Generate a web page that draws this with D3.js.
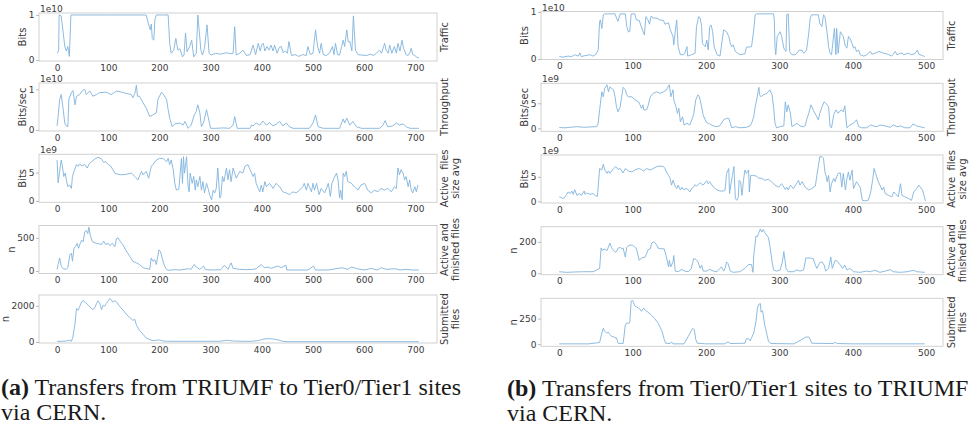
<!DOCTYPE html>
<html>
<head>
<meta charset="utf-8">
<script src="https://cdn.jsdelivr.net/npm/d3@7"></script>
<style>
  body { margin: 0; background: #fff; }
  svg { display: block; }
</style>
</head>
<body>
<svg id="chart" width="973" height="429"></svg>
<script>
// ---- (a) TRIUMF -> Tier0/Tier1, [time, value] ----
const aTraffic = [[0,0.15],[3,0.2],[4,1.0],[8,0.98],[12,0.6],[15,0.3],[18,0.2],[21,0.3],[24,0.08],[27,1.0],[100,1.0],[174,1.0],[179,0.78],[182,0.67],[184,0.8],[186,0.48],[189,0.44],[191,0.9],[194,1.0],[217,1.0],[220,0.37],[223,0.15],[228,0.22],[232,0.48],[236,0.22],[240,0.25],[245,0.07],[248,0.11],[251,0.6],[254,0.18],[259,0.3],[263,0.44],[267,0.07],[272,0.15],[275,1.0],[277,0.74],[281,0.22],[284,0.11],[288,0.26],[293,0.78],[297,0.15],[301,0.11],[310,0.15],[320,0.13],[330,0.16],[340,0.14],[344,0.15],[347,0.74],[350,0.11],[357,0.15],[363,0.22],[370,0.1],[377,0.12],[383,0.33],[388,0.12],[393,0.37],[397,0.2],[400,0.35],[403,0.37],[406,0.2],[410,0.3],[414,0.22],[418,0.33],[422,0.2],[425,0.33],[430,0.15],[434,0.28],[438,0.3],[442,0.16],[446,0.2],[450,0.15],[453,0.41],[458,0.1],[465,0.12],[472,0.08],[480,0.12],[487,0.1],[490,0.3],[495,0.12],[500,0.15],[505,0.67],[509,0.3],[513,0.15],[516,0.37],[520,0.12],[526,0.1],[532,0.15],[538,0.3],[541,0.12],[544,0.37],[548,0.12],[552,0.11],[556,0.3],[559,0.44],[562,0.3],[566,0.67],[569,0.4],[572,0.41],[576,0.2],[579,0.98],[583,0.22],[588,0.12],[595,0.11],[605,0.1],[612,0.13],[618,0.1],[624,0.15],[630,0.22],[634,0.15],[638,0.3],[640,0.37],[643,0.22],[647,0.15],[650,0.33],[654,0.15],[659,0.3],[663,0.15],[666,0.37],[670,0.2],[674,0.44],[677,0.26],[682,0.12],[686,0.1],[690,0.18],[692,0.26],[695,0.12],[699,0.1],[703,0.06],[707,0.05]];

const aThroughput = [[0,0.1],[2,0.33],[5,0.75],[8,0.87],[12,0.5],[15,0.17],[18,0.1],[21,0.08],[23,0.75],[28,0.92],[31,0.97],[35,0.62],[38,0.83],[44,0.87],[49,0.96],[54,1.0],[57,0.87],[64,0.96],[70,0.83],[77,0.87],[83,0.92],[96,0.93],[106,0.87],[116,0.96],[126,0.93],[135,0.9],[145,0.87],[148,0.79],[152,0.9],[155,1.1],[157,0.83],[161,0.83],[168,0.67],[174,0.54],[181,0.33],[187,0.37],[194,0.42],[197,0.75],[204,0.93],[208,0.87],[214,0.75],[217,0.5],[220,0.29],[225,0.08],[230,0.15],[240,0.17],[246,0.12],[250,0.21],[256,0.04],[262,0.12],[268,0.37],[272,0.46],[275,0.62],[279,0.42],[282,0.08],[286,0.17],[292,0.5],[295,0.33],[300,0.04],[311,0.04],[325,0.05],[337,0.04],[344,0.12],[347,0.33],[352,0.04],[365,0.04],[377,0.04],[380,0.12],[383,0.1],[389,0.17],[396,0.12],[402,0.22],[409,0.12],[415,0.18],[422,0.1],[429,0.15],[435,0.21],[441,0.1],[448,0.17],[454,0.08],[461,0.04],[480,0.04],[493,0.04],[500,0.17],[505,0.37],[510,0.08],[520,0.04],[540,0.04],[552,0.04],[559,0.27],[562,0.17],[566,0.29],[572,0.12],[578,0.21],[585,0.08],[595,0.04],[620,0.04],[630,0.04],[637,0.12],[641,0.23],[646,0.08],[656,0.1],[663,0.17],[669,0.12],[676,0.15],[683,0.07],[690,0.04],[707,0.04]];

const aSize = [[0,7.2],[2,3.2],[5,5.2],[8,7.2],[10,6.4],[13,4.3],[16,4.9],[18,3.7],[21,2.5],[25,2.8],[28,2.2],[30,4.3],[33,5.2],[38,6.4],[41,6.1],[44,6.5],[49,6.2],[54,6.4],[59,5.8],[63,6.6],[67,6.9],[74,7.4],[80,7.7],[87,7.4],[91,6.8],[95,6.9],[100,6.4],[105,6.1],[109,5.5],[113,4.9],[119,4.7],[126,4.6],[135,4.7],[145,4.9],[152,4.3],[158,3.7],[161,4.4],[165,5.2],[168,4.6],[174,5.2],[179,4.0],[184,6.1],[187,6.4],[194,7.2],[200,7.5],[207,7.5],[214,6.9],[217,7.5],[220,6.4],[223,7.2],[227,5.5],[230,3.1],[233,1.9],[238,2.1],[243,7.5],[245,3.1],[247,7.8],[249,4.9],[253,7.8],[256,2.5],[258,1.6],[260,4.9],[264,3.1],[267,4.3],[270,1.9],[272,3.7],[275,2.5],[279,4.3],[282,1.9],[285,3.4],[288,1.4],[292,3.1],[295,2.2],[298,1.1],[302,0.2],[305,1.9],[308,1.4],[311,2.2],[314,5.8],[318,0.5],[320,0.8],[323,4.3],[326,3.4],[331,5.8],[334,3.7],[337,5.5],[340,3.4],[344,5.8],[350,4.0],[357,5.2],[363,4.9],[367,6.1],[373,6.4],[377,5.5],[383,4.3],[386,4.9],[389,3.1],[393,2.2],[396,1.6],[399,2.8],[402,1.6],[406,3.4],[409,2.5],[415,3.1],[422,2.2],[428,3.1],[435,2.5],[441,1.6],[448,1.4],[454,1.1],[461,1.6],[467,1.4],[474,1.9],[480,2.5],[483,3.1],[487,1.9],[490,3.1],[493,2.5],[497,1.6],[500,3.1],[503,1.9],[507,3.1],[512,1.1],[516,2.2],[523,1.4],[530,3.1],[534,0.8],[537,3.1],[541,4.0],[546,4.9],[549,3.7],[552,0.5],[554,1.9],[557,0.2],[559,4.9],[562,4.3],[565,5.2],[568,3.4],[575,3.1],[581,2.5],[588,1.9],[594,2.8],[601,3.1],[607,1.9],[614,1.4],[620,1.9],[627,1.6],[633,2.2],[640,1.9],[646,2.2],[653,1.6],[659,2.5],[663,2.2],[666,5.8],[669,4.6],[672,5.5],[676,4.9],[679,3.7],[682,4.3],[686,2.5],[689,3.7],[692,1.9],[695,1.4],[699,2.5],[702,1.6],[705,2.8]];

const aActive = [[0,25],[2,98],[5,196],[8,73],[12,34],[18,25],[21,49],[25,245],[28,270],[30,147],[33,343],[36,368],[39,417],[42,343],[44,392],[48,466],[51,441],[54,588],[57,613],[60,564],[62,662],[65,539],[69,441],[77,417],[87,402],[91,451],[95,402],[100,417],[103,382],[108,417],[113,368],[116,490],[119,500],[124,441],[129,392],[135,304],[142,221],[148,147],[155,123],[161,98],[168,49],[174,39],[181,25],[184,196],[187,147],[191,172],[194,98],[199,319],[202,294],[207,147],[210,74],[214,25],[217,10],[230,20],[240,15],[250,25],[256,34],[262,25],[268,98],[272,59],[279,25],[286,74],[290,20],[305,15],[320,20],[327,88],[334,25],[340,123],[344,39],[357,25],[370,20],[383,25],[389,34],[399,98],[405,49],[412,59],[419,39],[425,59],[432,74],[438,49],[447,88],[449,15],[470,15],[490,15],[501,74],[505,15],[530,15],[557,49],[568,25],[575,59],[581,49],[586,34],[600,15],[614,39],[625,15],[634,49],[643,25],[660,34],[670,15],[682,25],[695,15],[707,15]];

const aSubmitted = [[0,37],[10,37],[18,55],[25,92],[28,37],[31,277],[35,1017],[38,1850],[41,1757],[44,1942],[48,2220],[51,2275],[56,2165],[61,2035],[65,1905],[70,1795],[74,1905],[77,2127],[80,2275],[83,2165],[87,1795],[90,2035],[93,1980],[96,2127],[100,2275],[103,2405],[106,2312],[109,2200],[113,2275],[116,2220],[122,1980],[129,1757],[135,1535],[142,1350],[148,1202],[152,1240],[155,925],[161,647],[168,425],[174,222],[181,130],[187,74],[194,92],[200,111],[207,55],[214,37],[260,37],[318,37],[331,92],[337,74],[344,55],[360,37],[380,37],[393,74],[402,148],[412,185],[422,166],[432,111],[441,37],[448,18],[550,18],[707,18]];

// ---- (b) Tier0/Tier1 -> TRIUMF ----
const bTraffic = [[0,0.05],[5,0.04],[12,0.06],[17,0.05],[21,0.09],[26,0.06],[28,0.13],[30,0.05],[35,0.07],[42,0.09],[46,0.06],[50,0.1],[53,0.19],[55,0.8],[56,0.83],[58,0.65],[60,0.94],[62,0.96],[76,0.96],[78,0.87],[80,0.8],[83,0.96],[90,0.96],[92,0.69],[94,0.58],[96,0.58],[98,0.96],[103,0.96],[105,0.83],[109,0.82],[111,0.72],[115,0.55],[116,0.51],[118,0.9],[121,0.83],[123,0.74],[125,0.91],[128,0.87],[133,0.87],[137,0.83],[142,0.82],[144,0.74],[149,0.77],[151,0.63],[155,0.48],[156,0.3],[158,0.58],[160,0.83],[162,0.26],[165,0.09],[169,0.09],[171,0.12],[174,0.26],[175,0.06],[180,0.09],[185,0.12],[187,0.69],[190,0.9],[192,0.87],[194,0.69],[195,0.33],[199,0.26],[201,0.4],[203,0.19],[205,0.69],[207,0.72],[209,0.58],[211,0.26],[215,0.09],[219,0.06],[224,0.62],[228,0.58],[231,0.48],[233,0.33],[235,0.26],[237,0.3],[240,0.16],[246,0.09],[253,0.11],[255,0.25],[262,0.26],[265,0.62],[267,0.94],[269,0.96],[292,0.96],[293,0.83],[294,0.26],[295,0.09],[297,0.48],[301,0.58],[303,0.48],[306,0.23],[309,0.16],[310,0.94],[312,0.96],[314,0.16],[317,0.09],[321,0.09],[324,0.12],[327,0.19],[331,0.18],[333,0.12],[337,0.19],[340,0.55],[342,0.87],[344,0.94],[353,0.94],[355,0.76],[358,0.69],[360,0.94],[362,0.9],[365,0.55],[367,0.26],[369,0.12],[371,0.09],[375,0.65],[377,0.09],[378,0.65],[380,0.12],[383,0.58],[387,0.48],[390,0.26],[392,0.23],[394,0.48],[396,0.44],[399,0.33],[401,0.23],[403,0.26],[405,0.16],[408,0.19],[410,0.09],[415,0.06],[419,0.09],[424,0.16],[426,0.1],[430,0.12],[436,0.16],[442,0.12],[446,0.11],[449,0.09],[453,0.06],[458,0.16],[460,0.09],[467,0.13],[469,0.09],[476,0.12],[480,0.09],[485,0.12],[488,0.19],[490,0.1],[495,0.07],[498,0.05]];

const bThroughput = [[0,0.15],[8,0.1],[15,0.2],[24,0.33],[33,0.2],[42,0.27],[51,0.33],[53,1.0],[55,3.7],[58,7.3],[60,6.3],[62,8.0],[65,8.7],[67,7.3],[69,8.3],[71,8.0],[74,7.7],[76,6.3],[78,4.3],[80,3.3],[83,4.3],[85,6.3],[87,8.2],[90,7.7],[92,6.7],[94,6.3],[99,6.3],[103,5.7],[108,5.3],[110,4.7],[112,4.0],[114,4.7],[115,3.7],[119,3.7],[121,4.5],[124,6.3],[128,7.0],[133,7.3],[137,7.0],[142,7.3],[146,7.7],[150,8.7],[152,6.3],[155,7.7],[156,5.7],[159,4.3],[161,3.0],[163,4.0],[165,1.3],[168,2.3],[170,0.67],[174,1.0],[178,0.67],[183,2.7],[186,5.7],[189,6.7],[191,6.3],[194,4.3],[196,2.7],[200,1.3],[203,1.0],[205,0.87],[210,0.47],[215,0.33],[219,0.53],[224,1.7],[228,2.0],[231,2.0],[235,0.1],[240,0.33],[246,0.1],[255,0.2],[260,0.47],[262,1.0],[265,2.3],[267,4.3],[269,5.7],[272,8.2],[273,6.7],[275,6.3],[278,6.7],[283,7.0],[287,7.7],[290,6.7],[292,4.3],[294,1.0],[296,0.1],[301,0.33],[306,0.47],[308,5.3],[310,3.3],[312,4.7],[315,3.0],[317,0.33],[324,1.0],[328,0.47],[333,0.33],[335,0.47],[337,1.7],[340,3.0],[343,4.7],[346,3.7],[351,2.3],[353,1.7],[355,3.0],[358,4.3],[361,5.3],[365,4.7],[367,4.3],[369,0.33],[371,0.1],[374,2.7],[377,3.7],[380,3.0],[384,3.7],[387,3.3],[389,4.5],[392,0.1],[396,0.67],[401,1.0],[405,1.7],[408,0.33],[412,0.1],[419,0.1],[424,0.67],[428,0.47],[433,0.33],[437,0.67],[444,0.47],[451,0.2],[455,0.67],[460,0.33],[465,0.47],[471,0.1],[478,0.1],[482,0.87],[487,0.47],[491,0.33],[498,0.1]];

const bSize = [[0,0.9],[3,0.75],[5,0.55],[8,0.9],[10,1.4],[12,1.9],[15,1.6],[17,2.1],[19,1.4],[21,2.4],[24,1.2],[28,1.6],[30,1.2],[34,2.1],[35,1.4],[37,1.7],[42,1.4],[46,1.6],[49,1.2],[52,1.0],[55,6.7],[58,6.4],[60,7.6],[62,6.4],[65,5.7],[67,6.2],[69,5.7],[74,6.7],[77,7.1],[80,6.5],[83,6.7],[87,5.8],[90,6.7],[94,6.2],[99,6.0],[103,6.4],[108,6.7],[112,6.5],[115,6.2],[119,6.7],[124,6.4],[128,6.7],[133,7.1],[137,7.2],[142,7.1],[144,6.7],[146,6.0],[149,5.3],[151,4.7],[153,3.3],[155,4.3],[158,3.1],[160,2.6],[162,3.3],[165,2.3],[167,2.9],[169,2.4],[174,2.6],[178,1.9],[180,2.6],[183,2.9],[185,3.4],[187,3.1],[192,3.8],[196,3.3],[201,4.2],[203,3.6],[205,4.0],[210,2.9],[215,2.3],[219,2.1],[224,2.1],[226,2.3],[228,5.7],[231,6.7],[232,1.6],[234,3.6],[236,5.3],[238,7.1],[240,0.55],[242,0.2],[244,0.9],[245,4.3],[247,4.0],[249,1.2],[251,4.3],[253,6.4],[255,5.7],[258,6.4],[259,1.9],[261,5.3],[265,5.3],[269,5.1],[272,4.7],[276,4.7],[280,4.3],[285,4.5],[289,4.0],[294,3.3],[299,2.9],[303,3.6],[308,2.4],[310,2.9],[312,2.3],[315,3.3],[319,2.6],[324,3.8],[326,4.3],[328,3.3],[331,4.0],[335,2.9],[340,2.3],[344,2.6],[349,3.1],[351,5.3],[353,7.1],[355,9.1],[358,9.1],[360,8.8],[362,6.0],[364,5.0],[365,4.0],[367,5.3],[369,1.9],[371,3.6],[374,4.7],[376,4.0],[378,5.0],[380,5.7],[383,5.8],[385,2.9],[387,5.7],[390,2.3],[392,4.7],[394,6.0],[396,4.3],[399,6.4],[401,2.6],[405,4.0],[410,2.9],[413,0.2],[417,0.1],[421,0.2],[424,1.6],[427,4.3],[429,6.7],[431,5.7],[434,4.3],[437,3.3],[440,2.3],[442,2.9],[444,1.6],[449,1.2],[453,0.9],[456,1.9],[458,1.6],[462,0.9],[465,3.6],[467,1.2],[471,0.9],[476,0.55],[480,0.2],[483,1.9],[487,2.6],[490,3.3],[492,2.9],[495,2.3],[497,1.2],[499,0.05]];

const bActive = [[0,10],[10,6],[19,8],[33,10],[46,10],[51,21],[55,31],[57,161],[59,144],[61,155],[65,144],[69,192],[71,165],[74,144],[76,134],[78,138],[80,159],[83,165],[85,155],[87,161],[90,103],[92,165],[94,175],[97,179],[100,179],[103,165],[105,159],[109,82],[112,97],[117,103],[119,124],[121,150],[124,155],[126,192],[129,200],[132,185],[135,159],[140,155],[143,155],[146,103],[149,41],[150,82],[152,41],[155,72],[156,113],[158,14],[162,10],[167,25],[171,14],[176,10],[180,31],[183,93],[186,89],[189,72],[192,31],[194,52],[196,14],[201,14],[205,25],[210,14],[215,10],[219,31],[221,41],[224,14],[226,31],[228,72],[230,62],[233,14],[237,6],[246,10],[253,31],[258,56],[262,56],[264,6],[265,113],[268,237],[270,233],[272,258],[274,282],[276,262],[278,278],[280,258],[283,241],[285,227],[287,175],[290,72],[292,21],[296,14],[301,21],[304,72],[306,138],[309,31],[312,10],[319,10],[324,21],[328,14],[333,21],[336,97],[342,97],[346,93],[349,52],[351,31],[355,68],[358,72],[361,52],[363,14],[367,31],[370,103],[372,31],[376,82],[379,76],[383,52],[386,31],[389,52],[392,21],[396,31],[401,10],[410,6],[419,14],[424,10],[430,19],[437,6],[444,14],[451,23],[455,10],[465,6],[474,10],[483,19],[487,10],[498,6]];

const bSubmitted = [[0,3],[20,3],[40,3],[55,16],[58,109],[60,156],[62,125],[65,109],[67,116],[69,94],[71,78],[74,72],[76,62],[78,62],[80,9],[87,6],[90,187],[92,209],[94,203],[96,209],[98,422],[100,428],[103,375],[105,366],[108,353],[110,344],[112,322],[115,353],[117,334],[121,313],[126,281],[130,250],[135,203],[140,125],[143,47],[145,9],[151,6],[153,22],[155,3],[170,3],[182,156],[184,141],[186,47],[188,9],[200,3],[225,3],[230,22],[233,6],[253,9],[255,53],[258,53],[260,31],[262,62],[265,109],[268,219],[270,353],[272,390],[274,397],[275,313],[277,328],[280,187],[281,156],[283,94],[285,31],[288,6],[320,3],[336,69],[340,69],[342,47],[344,9],[374,6],[376,22],[378,6],[400,3],[498,3]];

// ---- tick values ----
const xTicksA = [0, 100, 200, 300, 400, 500, 600, 700];
const xTicksB = [0, 100, 200, 300, 400, 500];
const yTicksA = [[0, 1], [0, 1], [0, 5], [0, 500], [0, 2000]];
const yTicksB = [[0, 1], [0, 5], [0, 5], [0, 200], [0, 250]];
const offsetsA = ['1e10', '1e10', '1e9', '', ''];
const offsetsB = ['1e10', '1e9', '1e9', '', ''];
const leftLabels = ['Bits', 'Bits/sec', 'Bits', 'n', 'n'];
const rightLabels = [['Traffic'], ['Throughput'], ['Active  files', 'size avg'], ['Active and', 'finished files'], ['Submitted', 'files']];

const PANEL_H = 48;
const LINE_COLOR = '#80b3dd';
const FRAME_COLOR = '#cccccc';
const TEXT_COLOR = '#3a3a3a';
const AX_FONT = "'DejaVu Sans', sans-serif";

const columns = [
  {
    left: 39, right: 437, xDomain: [-35.35, 742.35], xTicks: xTicksA,
    tops: [13, 83, 154.3, 225.5, 295], rightGap: 10.5, lineGap: 11.5,
    series: [aTraffic, aThroughput, aSize, aActive, aSubmitted],
    yDomains: [[-0.022, 1.044], [-0.026, 1.156], [-0.25, 8.22], [-38, 687], [-56, 2594]],
    yTicks: yTicksA, offsets: offsetsA
  },
  {
    left: 541, right: 943, xDomain: [-24.9, 522.9], xTicks: xTicksB,
    tops: [11.5, 83.3, 155, 226.7, 298.3], rightGap: 12, lineGap: 10.5,
    series: [bTraffic, bThroughput, bSize, bActive, bSubmitted],
    yDomains: [[-0.012, 1.01], [-0.6, 9.0], [-0.35, 9.46], [-9, 296], [-21, 449]],
    yTicks: yTicksB, offsets: offsetsB
  }
];

const svg = d3.select('#chart');
const plain = d => String(d);

function drawColumn(col) {
  const x = d3.scaleLinear().domain(col.xDomain).range([col.left, col.right]);

  col.series.forEach((data, i) => {
    const top = col.tops[i];
    const bottom = top + PANEL_H;
    const y = d3.scaleLinear().domain(col.yDomains[i]).range([bottom, top]);
    const g = svg.append('g').attr('class', 'panel');

    // FRAME
    g.append('rect')
      .attr('x', col.left).attr('y', top)
      .attr('width', col.right - col.left).attr('height', PANEL_H)
      .attr('fill', 'none')
      .attr('stroke', FRAME_COLOR)
      .attr('stroke-width', 0.9);

    // SERIES LINE
    const line = d3.line().x(d => x(d[0])).y(d => y(d[1]));
    g.append('path')
      .datum(data)
      .attr('d', line)
      .attr('fill', 'none')
      .attr('stroke', LINE_COLOR)
      .attr('stroke-width', 0.9)
      .attr('stroke-linejoin', 'round');

    // X AXIS
    const xAxis = g.append('g')
      .attr('transform', `translate(0,${bottom})`)
      .call(d3.axisBottom(x).tickValues(col.xTicks).tickFormat(plain).tickSize(0).tickPadding(3.2));
    xAxis.select('.domain').remove();

    // Y AXIS
    const yAxis = g.append('g')
      .attr('transform', `translate(${col.left},0)`)
      .call(d3.axisLeft(y).tickValues(col.yTicks[i]).tickFormat(plain).tickSize(3).tickPadding(1.5));
    yAxis.select('.domain').remove();
    yAxis.selectAll('line').attr('stroke', '#bbbbbb');

    [xAxis, yAxis].forEach(a => {
      a.attr('font-family', AX_FONT).attr('font-size', 9);
      a.selectAll('text').attr('fill', TEXT_COLOR);
    });

    // OFFSET TEXT (1e10 / 1e9)
    if (col.offsets[i]) {
      g.append('text')
        .attr('x', col.left + 1).attr('y', top - 1)
        .attr('font-family', AX_FONT).attr('font-size', 9)
        .attr('fill', TEXT_COLOR)
        .text(col.offsets[i]);
    }

    // LEFT LABEL, placed next to the tick labels
    const bb = yAxis.node().getBBox();
    const lx = col.left + bb.x - 2.5;
    g.append('text')
      .attr('transform', `translate(${lx},${(top + bottom) / 2}) rotate(-90)`)
      .attr('text-anchor', 'middle')
      .attr('font-family', AX_FONT).attr('font-size', 10)
      .attr('fill', TEXT_COLOR)
      .text(leftLabels[i]);

    // RIGHT LABEL
    const rt = g.append('text')
      .attr('transform', `translate(${col.right + col.rightGap},${(top + bottom) / 2}) rotate(-90)`)
      .attr('text-anchor', 'middle')
      .attr('font-family', AX_FONT).attr('font-size', 10)
      .attr('fill', TEXT_COLOR)
      .attr('xml:space', 'preserve');
    rightLabels[i].forEach((t, k) => {
      rt.append('tspan').attr('x', 0).attr('y', k * col.lineGap).text(t);
    });
  });
}

columns.forEach(drawColumn);

// CAPTIONS
const captions = [
  {x: 1, y: 395, tag: '(a)', lines: [' Transfers from TRIUMF to Tier0/Tier1 sites', 'via CERN.']},
  {x: 507, y: 396, tag: '(b)', lines: [' Transfers from Tier0/Tier1 sites to TRIUMF', 'via CERN.']}
];
captions.forEach(c => {
  const t = svg.append('text')
    .attr('x', c.x).attr('y', c.y)
    .attr('font-family', "'Liberation Serif', 'Times New Roman', serif")
    .attr('font-size', 24)
    .attr('fill', '#1a1a1a');
  t.append('tspan').attr('font-weight', 'bold').text(c.tag);
  t.append('tspan').text(c.lines[0]);
  t.append('tspan').attr('x', c.x).attr('y', c.y + 25).text(c.lines[1]);
});
</script>
</body>
</html>
